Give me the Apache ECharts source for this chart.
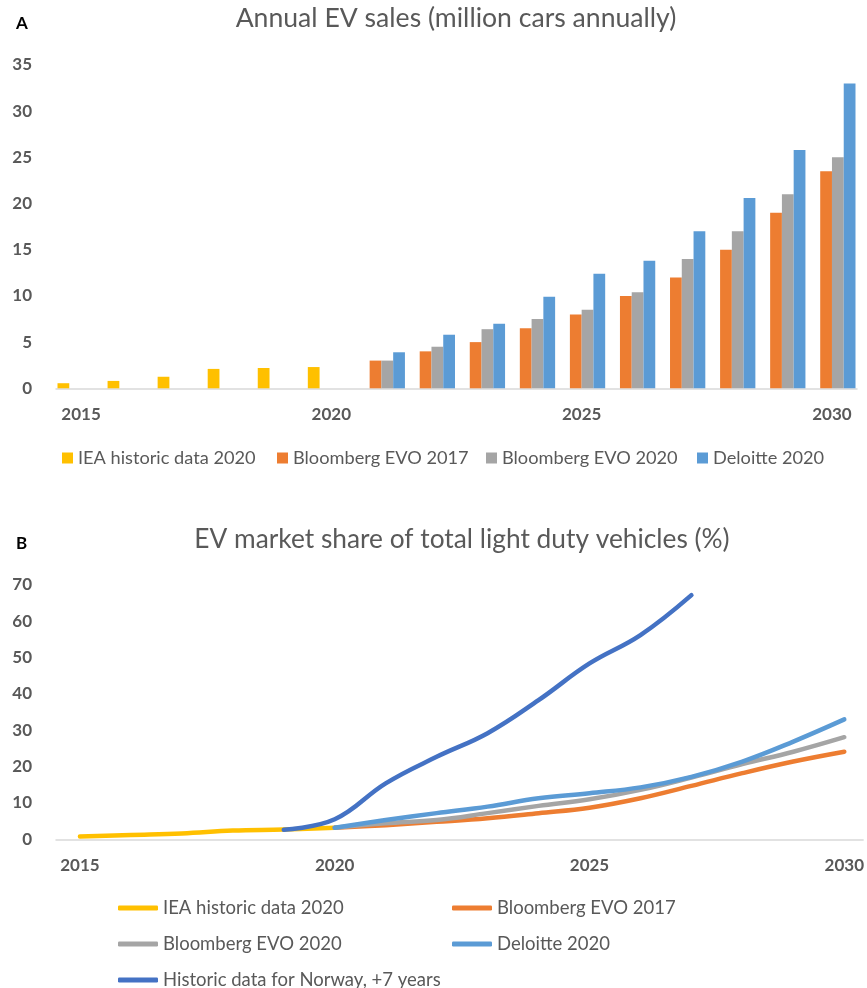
<!DOCTYPE html>
<html>
<head>
<meta charset="utf-8">
<script src="https://cdn.jsdelivr.net/npm/echarts@6/dist/echarts.min.js"></script>
<style>
html,body{margin:0;padding:0;background:#fff;}
#c{width:867px;height:988px;}
</style>
</head>
<body>
<div id="c"></div>
<script>
// ---- Panel A data: annual EV sales (million cars) ----
const salesYears = ['2015','2016','2017','2018','2019','2020','2021','2022','2023','2024','2025','2026','2027','2028','2029','2030'];
const salesIEA      = [0.55, 0.8, 1.25, 2.1, 2.2, 2.3, null, null, null, null, null, null, null, null, null, null];
const salesBNEF2017 = [null, null, null, null, null, null, 3.0, 4.0, 5.0, 6.5, 8.0, 10.0, 12.0, 15.0, 19.0, 23.5];
const salesBNEF2020 = [null, null, null, null, null, null, 3.0, 4.5, 6.4, 7.5, 8.5, 10.4, 14.0, 17.0, 21.0, 25.0];
const salesDeloitte = [null, null, null, null, null, null, 3.9, 5.8, 7.0, 9.9, 12.4, 13.8, 17.0, 20.6, 25.8, 33.0];

// ---- Panel B data: EV market share (%) ----
const histYears = [2015, 2016, 2017, 2018, 2019, 2020];
const shareIEA = [0.8, 1.2, 1.6, 2.4, 2.7, 3.2];
const projYears = [2020, 2021, 2022, 2023, 2024, 2025, 2026, 2027, 2028, 2029, 2030];
const shareBNEF2017 = [3.2, 3.9, 4.8, 5.8, 7.2, 8.7, 11.3, 14.7, 18.2, 21.4, 24.1];
const shareBNEF2020 = [3.2, 4.4, 5.3, 7.2, 9.2, 11.0, 13.6, 17.0, 20.7, 24.1, 28.1];
const shareDeloitte = [3.2, 5.3, 7.2, 9.0, 11.3, 12.7, 14.3, 17.2, 21.4, 26.9, 33.0];
const norwayYears = [2019, 2020, 2021, 2022, 2023, 2024, 2025, 2026, 2027];
const shareNorway = [2.6, 5.5, 15.4, 22.7, 29.2, 38.3, 48.4, 56.2, 67.2];
const shareTicks = [2015, 2020, 2025, 2030];

const names = ['IEA historic data 2020', 'Bloomberg EVO 2017', 'Bloomberg EVO 2020', 'Deloitte 2020', 'Historic data for Norway, +7 years'];
const colors = ['#FFC000', '#ED7D31', '#A5A5A5', '#5B9BD5', '#4472C4'];

const FONT = 'Lato';
const GREY = '#595959';
const LEG_FS = 18.5;
const pair = (xs, ys) => xs.map((x, i) => [x, ys[i]]);

const chart = echarts.init(document.getElementById('c'), null, {renderer: 'canvas'});

const lineSeries = (idx, xs, ys) => ({
  name: names[idx], type: 'line', xAxisIndex: 1, yAxisIndex: 1,
  data: pair(xs, ys), smooth: 0.4, showSymbol: false, symbol: 'none',
  lineStyle: {color: colors[idx], width: 4.5, cap: 'round', join: 'round'},
  itemStyle: {color: colors[idx]}, animation: false
});

const barSeries = (idx, ys) => ({
  name: names[idx], type: 'bar', xAxisIndex: 0, yAxisIndex: 0,
  data: ys, barGap: '0%', barCategoryGap: '6%',
  itemStyle: {color: colors[idx]}, animation: false
});

const legendA = (idx, left) => ({
  data: [names[idx]], left: left, top: 448, orient: 'horizontal',
  icon: 'rect', itemWidth: 11, itemHeight: 11, padding: 0,
  textStyle: {fontFamily: FONT, fontSize: 18.2, color: GREY, lineHeight: 20}
});

const legendB = (idx, left, top) => ({
  data: [names[idx]], left: left, top: top, orient: 'horizontal',
  icon: 'roundRect', itemWidth: 40, itemHeight: 5, padding: 0,
  textStyle: {fontFamily: FONT, fontSize: LEG_FS, color: GREY, lineHeight: 20}
});

chart.setOption({
  animation: false,
  textStyle: {fontFamily: FONT},
  title: [
    {text: 'Annual EV sales (million cars annually)', left: 456, textAlign: 'center', top: 5, padding: 0,
     textStyle: {fontFamily: FONT, fontSize: 26.6, fontWeight: 'normal', color: GREY}},
    {text: 'A', left: 16, top: 15, padding: 0,
     textStyle: {fontFamily: FONT, fontSize: 17, fontWeight: 'bold', color: '#000'}},
    {text: 'EV market share of total light duty vehicles (%)', left: 462, textAlign: 'center', top: 527, padding: 0,
     textStyle: {fontFamily: FONT, fontSize: 26.3, fontWeight: 'normal', color: GREY}},
    {text: 'B', left: 16, top: 535, padding: 0,
     textStyle: {fontFamily: FONT, fontSize: 17, fontWeight: 'bold', color: '#000'}}
  ],
  legend: [
    legendA(0, 62),
    legendA(1, 277),
    legendA(2, 486),
    legendA(3, 697),
    legendB(0, 118, 898),
    legendB(1, 452, 898),
    legendB(2, 118, 934),
    legendB(3, 452, 934),
    legendB(4, 118, 970)
  ],
  grid: [
    {left: 56, width: 801, top: 65, height: 323.3, containLabel: false},
    {left: 56, width: 810, top: 585, height: 254.3, containLabel: false}
  ],
  xAxis: [
    {type: 'category', gridIndex: 0, data: salesYears, boundaryGap: true,
     axisLine: {lineStyle: {color: '#D9D9D9', width: 1.5}},
     axisTick: {show: false},
     axisLabel: {interval: 4, margin: 18, fontFamily: FONT, fontSize: 17, fontWeight: 'bold', color: GREY},
     splitLine: {show: false}},
    {type: 'value', gridIndex: 1, min: 2014.53, max: 2030.37,
     axisLine: {show: true, onZero: false, lineStyle: {color: '#D9D9D9', width: 1.5}},
     axisTick: {show: false},
     axisLabel: {customValues: shareTicks, margin: 18, fontFamily: FONT, fontSize: 17, fontWeight: 'bold', color: GREY,
                 formatter: v => String(v), showMinLabel: true, showMaxLabel: true},
     splitLine: {show: false}}
  ],
  yAxis: [
    {type: 'value', gridIndex: 0, min: 0, max: 35, interval: 5,
     axisLine: {show: false}, axisTick: {show: false}, splitLine: {show: false},
     axisLabel: {margin: 24, fontFamily: FONT, fontSize: 17, fontWeight: 'bold', color: GREY}},
    {type: 'value', gridIndex: 1, min: 0, max: 70, interval: 10,
     axisLine: {show: false}, axisTick: {show: false}, splitLine: {show: false},
     axisLabel: {margin: 24, fontFamily: FONT, fontSize: 17, fontWeight: 'bold', color: GREY}}
  ],
  series: [
    barSeries(0, salesIEA),
    barSeries(1, salesBNEF2017),
    barSeries(2, salesBNEF2020),
    barSeries(3, salesDeloitte),
    lineSeries(0, histYears, shareIEA),
    lineSeries(1, projYears, shareBNEF2017),
    lineSeries(2, projYears, shareBNEF2020),
    lineSeries(3, projYears, shareDeloitte),
    lineSeries(4, norwayYears, shareNorway)
  ]
});
</script>
</body>
</html>
